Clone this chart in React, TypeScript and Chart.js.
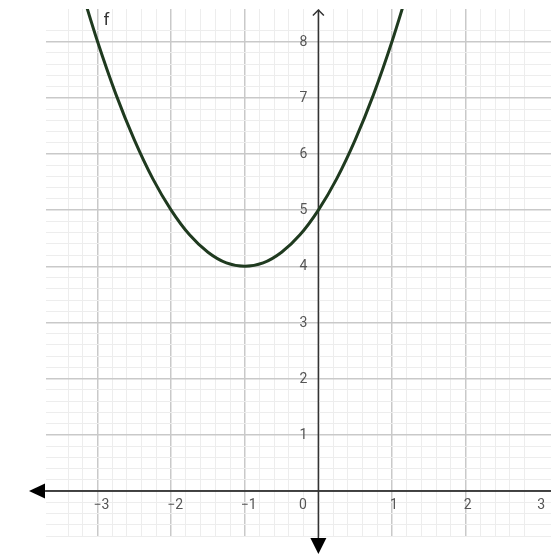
import React, { useEffect, useRef } from "react";
import { Chart, registerables } from "chart.js";

Chart.register(...registerables);

// Points on the curve f (read along the plotted parabola)
const curveX = [-3.25, -3, -2.75, -2.5, -2.25, -2, -1.75, -1.5, -1.25, -1, -0.75, -0.5, -0.25, 0, 0.25, 0.5, 0.75, 1, 1.25];
const curveY = [9.06, 8, 7.06, 6.25, 5.56, 5, 4.56, 4.25, 4.06, 4, 4.06, 4.25, 4.56, 5, 5.56, 6.25, 7.06, 8, 9.06];

// Visible window of the graph view
const xRange = [-3.7, 3.16];
const yRange = [-0.8, 8.58];

// Labelled ticks along the axes
const xTickLabels = [-3, -2, -1, 1, 2, 3];
const yTickLabels = [1, 2, 3, 4, 5, 6, 7, 8];
const minorStep = 0.2;

const functionName = "f";
const functionLabelAt = { x: -2.88, y: 8.37 };

const LABEL_FONT = "14px Roboto, 'DejaVu Sans', sans-serif";
const LABEL_COLOR = "#555555";

const isWhole = (v: number) => Math.abs(v - Math.round(v)) < 1e-6;
const isMinor = (v: number) => Math.abs(v / minorStep - Math.round(v / minorStep)) < 1e-6;

const gridColor = (ctx: any) => {
  const v = ctx.tick ? ctx.tick.value : NaN;
  if (isWhole(v)) return "#c9c9c9";
  if (isMinor(v)) return "#ededed";
  return "rgba(0,0,0,0)";
};
const gridWidth = (ctx: any) => {
  const v = ctx.tick ? ctx.tick.value : NaN;
  return isWhole(v) ? 1.5 : 1;
};

const fmt = (v: number) => (v < 0 ? "\u2212" + Math.abs(v) : String(v));

const axesPlugin = {
  id: "cartesianAxes",
  beforeDatasetsDraw(chart: any) {
    const { ctx, chartArea, scales } = chart;
    const xs = scales.x;
    const ys = scales.y;
    const x0 = xs.getPixelForValue(0);
    const y0 = ys.getPixelForValue(0);
    ctx.save();

    // x axis with filled arrow on the left
    ctx.strokeStyle = "#111111";
    ctx.lineWidth = 1.5;
    ctx.beginPath();
    ctx.moveTo(chartArea.left - 1, y0);
    ctx.lineTo(chartArea.right, y0);
    ctx.stroke();
    ctx.fillStyle = "#000000";
    ctx.beginPath();
    ctx.moveTo(chartArea.left - 17, y0);
    ctx.lineTo(chartArea.left - 1, y0 - 7.5);
    ctx.lineTo(chartArea.left - 1, y0 + 7.5);
    ctx.closePath();
    ctx.fill();

    // y axis: open arrow at top, filled arrow at the bottom
    ctx.strokeStyle = "#333333";
    ctx.lineWidth = 1.5;
    ctx.beginPath();
    ctx.moveTo(x0, chartArea.top + 1);
    ctx.lineTo(x0, chartArea.bottom + 3);
    ctx.stroke();
    ctx.beginPath();
    ctx.moveTo(x0 - 5.5, chartArea.top + 6.5);
    ctx.lineTo(x0, chartArea.top + 1);
    ctx.lineTo(x0 + 5.5, chartArea.top + 6.5);
    ctx.stroke();
    ctx.fillStyle = "#000000";
    ctx.beginPath();
    ctx.moveTo(x0 - 8, chartArea.bottom + 2);
    ctx.lineTo(x0 + 8, chartArea.bottom + 2);
    ctx.lineTo(x0, chartArea.bottom + 18);
    ctx.closePath();
    ctx.fill();

    // tick labels
    ctx.font = LABEL_FONT;
    ctx.fillStyle = LABEL_COLOR;
    ctx.textAlign = "center";
    ctx.textBaseline = "middle";
    xTickLabels.forEach((v) => {
      const px = xs.getPixelForValue(v) + (v < 0 ? 4 : 2);
      ctx.fillText(fmt(v), px, y0 + 14);
    });
    ctx.fillText("0", x0 - 15.5, y0 + 14);
    ctx.textAlign = "right";
    yTickLabels.forEach((v) => {
      ctx.fillText(fmt(v), x0 - 11, ys.getPixelForValue(v) + 0.5);
    });
    ctx.restore();
  },
  afterDatasetsDraw(chart: any) {
    const { ctx, scales } = chart;
    ctx.save();
    ctx.font = "17px Roboto, 'DejaVu Sans', sans-serif";
    ctx.fillStyle = "#333333";
    ctx.textAlign = "center";
    ctx.textBaseline = "middle";
    ctx.fillText(
      functionName,
      scales.x.getPixelForValue(functionLabelAt.x),
      scales.y.getPixelForValue(functionLabelAt.y)
    );
    ctx.restore();
  },
};

export default function App() {
  const canvasRef = useRef<HTMLCanvasElement | null>(null);

  useEffect(() => {
    if (!canvasRef.current) return;
    const chart = new Chart(canvasRef.current, {
      type: "scatter",
      data: {
        datasets: [
          {
            label: functionName,
            data: curveX.map((x, i) => ({ x, y: curveY[i] })),
            showLine: true,
            borderColor: "#1f3a1f",
            borderWidth: 3,
            pointRadius: 0,
            cubicInterpolationMode: "monotone",
            fill: false,
            clip: 0,
          } as any,
        ],
      },
      options: {
        responsive: false,
        animation: false,
        layout: { padding: { left: 46, top: 9, right: 0, bottom: 19 } },
        plugins: {
          legend: { display: false },
          tooltip: { enabled: false },
        },
        events: [],
        scales: {
          x: {
            type: "linear",
            min: xRange[0],
            max: xRange[1],
            ticks: { display: false, stepSize: minorStep, autoSkip: false },
            grid: { color: gridColor, lineWidth: gridWidth, drawTicks: false },
            border: { display: false },
            afterFit: (s: any) => {
              s.height = 0;
            },
          },
          y: {
            type: "linear",
            min: yRange[0],
            max: yRange[1],
            ticks: { display: false, stepSize: minorStep, autoSkip: false },
            grid: { color: gridColor, lineWidth: gridWidth, drawTicks: false },
            border: { display: false },
            afterFit: (s: any) => {
              s.width = 0;
            },
          },
        },
      },
      plugins: [axesPlugin],
    });
    return () => chart.destroy();
  }, []);

  return (
    <div style={{ position: "absolute", left: 0, top: 0, width: 551, height: 555, background: "#ffffff" }}>
      <canvas ref={canvasRef} width={551} height={555} />
    </div>
  );
}
